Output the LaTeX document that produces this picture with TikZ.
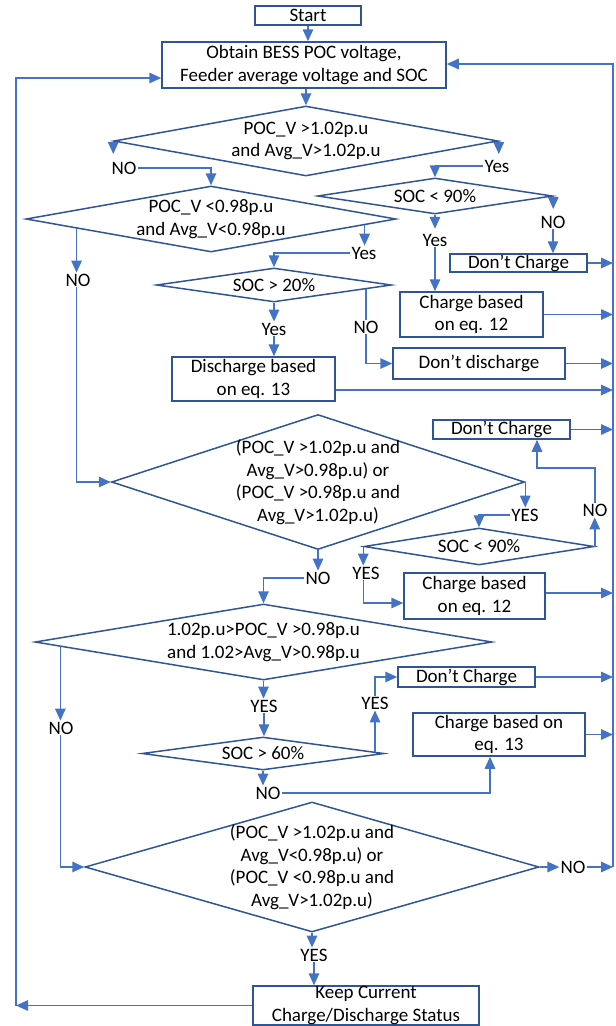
\documentclass[tikz,border=0pt]{standalone}
\usepackage{fontspec}
\setmainfont{Carlito}
\usetikzlibrary{arrows.meta,shapes.geometric,calc}
\definecolor{lc}{RGB}{68,114,196}
\definecolor{bc}{RGB}{47,85,151}
\begin{document}
\begin{tikzpicture}[x=1pt,y=-1pt,
  font=\fontsize{19}{22.5}\selectfont,
  box/.style={draw=bc, line width=1.5pt, inner sep=0pt, align=center},
  dia/.style={draw=bc, line width=1.5pt, shape=diamond, inner sep=0pt},
  dlab/.style={align=center, inner sep=0pt},
  arr/.style={draw=lc, line width=1.5pt, -{Triangle[length=12pt,width=10.5pt]}},
  ln/.style={draw=lc, line width=1.5pt},
  lab/.style={inner sep=1pt}]
\useasboundingbox (0,0) rectangle (616,1026);

% boxes
\node[box, minimum width=106pt, minimum height=19pt] (start) at (308,15.5) {Start};
\node[box, minimum width=284pt, minimum height=46pt] (obtain) at (304,65) {Obtain BESS POC voltage,\\Feeder average voltage and SOC};
\node[box, minimum width=137pt, minimum height=18pt] (dc1) at (518.5,263) {Don’t Charge};
\node[box, minimum width=143pt, minimum height=45pt] (c12a) at (471.5,314.5) {Charge based\\on eq. 12};
\node[box, minimum width=172pt, minimum height=31pt] (dd) at (479,363.5) {Don’t discharge};
\node[box, minimum width=163pt, minimum height=44pt] (d13) at (253.5,379) {Discharge based\\on eq. 13};
\node[box, minimum width=137pt, minimum height=19pt] (dc2) at (501.5,429.5) {Don’t Charge};
\node[box, minimum width=141pt, minimum height=46pt] (c12b) at (474.5,596) {Charge based\\on eq. 12};
\node[box, minimum width=137pt, minimum height=20pt] (dc3) at (466.5,677) {Don’t Charge};
\node[box, minimum width=172pt, minimum height=43pt] (c13) at (499,734.5) {Charge based on\\eq. 13};
\node[box, minimum width=226pt, minimum height=39pt] (keep) at (366,1005.5) {Keep Current\\Charge/Discharge Status};

% diamonds
\node[dia, minimum width=384pt, minimum height=70pt, label={[dlab]center:POC\_V >1.02p.u\\and Avg\_V>1.02p.u}] (d1) at (306,141) {};
\node[dia, minimum width=370pt, minimum height=66pt, label={[dlab]center:POC\_V <0.98p.u\\and Avg\_V<0.98p.u}] (d2) at (211,219) {};
\node[dia, minimum width=235pt, minimum height=36pt, label={[dlab]center:SOC < 90\%}] (d3) at (435,196) {};
\node[dia, minimum width=235pt, minimum height=34pt, label={[dlab]center:SOC > 20\%}] (d20) at (274,285) {};
\node[dia, minimum width=413pt, minimum height=135pt, label={[dlab]center:(POC\_V >1.02p.u and\\Avg\_V>0.98p.u) or\\(POC\_V >0.98p.u and\\Avg\_V>1.02p.u)}] (d4) at (318,482) {};
\node[dia, minimum width=230pt, minimum height=37pt, label={[dlab]center:SOC < 90\%}] (d5) at (479,546.5) {};
\node[dia, minimum width=457pt, minimum height=76pt, label={[dlab]center:1.02p.u>POC\_V >0.98p.u\\and 1.02>Avg\_V>0.98p.u}] (d6) at (263.5,642) {};
\node[dia, minimum width=242pt, minimum height=33pt, label={[dlab]center:SOC > 60\%}] (d60) at (263,753.5) {};
\node[dia, minimum width=454pt, minimum height=130pt, label={[dlab]center:(POC\_V >1.02p.u and\\Avg\_V<0.98p.u) or\\(POC\_V <0.98p.u and\\Avg\_V>1.02p.u)}] (d7) at (312,867) {};

\coordinate (rx) at (613,0);

% start -> obtain -> d1
\draw[arr] (start.south) -- (start.south |- obtain.north);
\draw[arr] (obtain.south -| d1.north) -- (d1.north);

% d1 NO / Yes
\node[lab] (n1) at (124,168) {NO};
\draw[arr] (d1.west) -- ++(0,13);
\draw[arr] (n1.east) -| (d2.north);
\node[lab] (y1) at (497,166) {Yes};
\draw[arr] (d1.east) -- ++(0,13);
\draw[arr] (y1.west) -| (d3.north);

% d3
\node[lab] (n3) at (553,222) {NO};
\draw[arr] (d3.east) -- ++(0,13);
\draw[arr] (n3.south) -- (n3.south |- dc1.north);
\node[lab] (y3) at (435,240) {Yes};
\draw[arr] (d3.south) -- ++(0,14);
\draw[arr] (y3.south) -- (y3.south |- c12a.north);

% d2
\coordinate (d2no) at ($(d2.west)!0.276!(d2.south)$);
\node[lab] (n2) at (78,280) {NO};
\draw[arr] (d2no) -- (d2no |- n2.north);
\draw[arr] (d2no |- n2.south) |- (d4.west);
\coordinate (d2yes) at ($(d2.east)!0.173!(d2.south)$);
\node[lab] (y2) at (364,253) {Yes};
\draw[arr] (d2yes) -- (d2yes |- y2.north);
\draw[arr] (y2.west) -| (d20.north);

% d20
\node[lab] (y20) at (274,329) {Yes};
\draw[arr] (d20.south) -- (y20.north);
\draw[arr] (y20.south) -- (y20.south |- d13.north);
\coordinate (d20no) at ($(d20.east)!0.22!(d20.south)$);
\node[lab] (n20) at (366,327) {NO};
\draw[ln] (d20no) -- (d20no |- n20.north);
\draw[arr] (d20no |- n20.south) |- (dd.west);

% d4
\node[lab] (y4) at (525,515) {YES};
\draw[arr] (d4.east) -- (d4.east |- y4.north);
\draw[arr] (y4.west) -| (d5.north);
\node[lab] (n4) at (318,578) {NO};
\draw[arr] (d4.south) -- (n4.north);
\draw[arr] (n4.west) -| (d6.north);

% d5
\node[lab] (n5) at (595,510) {NO};
\coordinate (k5) at (537,468);
\draw[arr] (d5.east) -- (d5.east |- n5.south);
\draw[arr] (d5.east |- n5.north) |- (k5) -- (k5 |- dc2.south);
\node[lab] (y5) at (366,573) {YES};
\draw[arr] (d5.west) -- (d5.west |- y5.north);
\coordinate (c12bin) at ($(c12b.west)+(0,7)$);
\draw[arr] (d5.west |- y5.south) |- (c12bin);

% d6
\coordinate (d6no) at ($(d6.west)!0.114!(d6.south)$);
\node[lab] (n6) at (61,728) {NO};
\draw[arr] (d6no) -- (d6no |- n6.north);
\draw[arr] (d6no |- n6.south) |- (d7.west);
\node[lab] (y6) at (264,706) {YES};
\draw[arr] (d6.south) -- (d6.south |- y6.north);
\draw[arr] (y6.south) -- (y6.south |- d60.north);

% d60
\node[lab] (n60) at (268,793) {NO};
\draw[arr] (d60.south) -- (d60.south |- n60.north);
\coordinate (c13in) at ($(c13.south)+(-9,0)$);
\draw[arr] (n60.east) -| (c13in);
\coordinate (d60yes) at ($(d60.east)!0.08!(d60.north)$);
\node[lab] (y60) at (375,703) {YES};
\draw[arr] (d60yes) -- (d60yes |- y60.south);
\draw[arr] (d60yes |- y60.north) |- (dc3.west);

% right-side arrows
\coordinate (d13out) at ($(d13.east)+(0,11)$);
\coordinate (c12bout) at ($(c12b.east)+(0,-3)$);
\draw[arr] (dc1.east) -- (dc1.east -| rx);
\draw[arr] (c12a.east) -- (c12a.east -| rx);
\draw[arr] (dd.east) -- (dd.east -| rx);
\draw[arr] (d13out) -- (d13out -| rx);
\draw[arr] (dc2.east) -- (dc2.east -| rx);
\draw[arr] (c12bout) -- (c12bout -| rx);
\draw[arr] (dc3.east) -- (dc3.east -| rx);
\draw[arr] (c13.east) -- (c13.east -| rx);

% d7
\node[lab] (n7) at (573,867) {NO};
\draw[arr] (d7.east) -- (n7.west);
\draw[arr] (n7.east) -- (n7.east -| rx);
\node[lab] (y7) at (314,955) {YES};
\draw[arr] (d7.south) -- (d7.south |- y7.north);
\draw[arr] (y7.south) -- (y7.south |- keep.north);

% loops
\coordinate (lb) at (16,1006);
\coordinate (lt) at (16,78);
\coordinate (rt) at (613,64);
\draw[arr] (keep.west) -- (keep.west -| lb);
\draw[arr] (lb) -- (lt) -- (lt -| obtain.west);
\draw[arr] (n7.east -| rx) -- (rt) -- (rt -| obtain.east);
\end{tikzpicture}
\end{document}
